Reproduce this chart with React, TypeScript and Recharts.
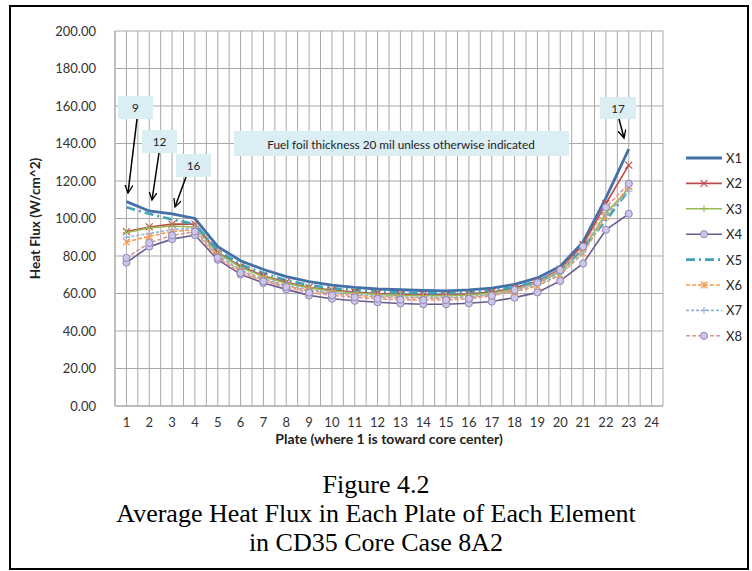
import React from "react";
import { LineChart, Line, XAxis, YAxis, CartesianGrid, Label } from "recharts";

const plates = [1, 2, 3, 4, 5, 6, 7, 8, 9, 10, 11, 12, 13, 14, 15, 16, 17, 18, 19, 20, 21, 22, 23, 24];
const yTicks = [0, 20, 40, 60, 80, 100, 120, 140, 160, 180, 200];

// plate 1..23, plate 24 has no value
const x1 = [109, 104, 102.5, 100, 85, 77.5, 72.8, 69, 66.3, 64.5, 63.3, 62.4, 62, 61.6, 61.4, 61.9, 62.9, 64.9, 68.3, 74.5, 87.5, 111, 137];
const x2 = [93, 95.5, 97, 97, 82, 74.5, 69.5, 66, 63.3, 61.8, 60.8, 60, 59.6, 59.3, 59.3, 59.8, 60.8, 63, 66.5, 73, 86, 108, 128.5];
const x3 = [92.5, 95, 96, 95.5, 81.5, 74, 69, 65.5, 63, 61.3, 60.3, 59.5, 59, 58.8, 58.8, 59.2, 60.2, 62.3, 65.5, 71.5, 83.5, 103, 116];
const x4 = [76.5, 85, 89, 91.2, 78, 70.2, 65.6, 62.2, 59, 57.2, 56.1, 55.3, 54.7, 54.3, 54.3, 54.8, 55.7, 57.8, 60.6, 66.7, 76, 94, 102.5];
const x5 = [106, 102.5, 99.5, 97, 83, 75.5, 70.8, 67, 64.5, 62.8, 61.8, 61, 60.5, 60.2, 60.2, 60.6, 61.6, 63.5, 66.5, 72.5, 84, 99, 115];
const x6 = [87.5, 90.5, 93, 94, 80, 72, 67.2, 64, 61.5, 60, 59, 58.2, 57.7, 57.5, 57.5, 58, 59, 61, 64, 70, 81.5, 101, 117];
const x7 = [90, 92, 94, 95, 80.5, 72.5, 67.8, 64.5, 62, 60.5, 59.5, 58.7, 58.2, 58, 58, 58.4, 59.4, 61.5, 64.5, 70.5, 82, 102, 114.5];
const x8 = [79, 87, 91, 93, 79, 71, 66.5, 63.5, 60.5, 59, 58, 57.2, 56.7, 56.5, 56.5, 57.2, 58.8, 61.9, 65.8, 72.5, 85, 106, 118.5];

const data = plates.map((p, i) => ({
  plate: p,
  X1: x1[i] ?? null,
  X2: x2[i] ?? null,
  X3: x3[i] ?? null,
  X4: x4[i] ?? null,
  X5: x5[i] ?? null,
  X6: x6[i] ?? null,
  X7: x7[i] ?? null,
  X8: x8[i] ?? null,
}));

type Marker = "none" | "x" | "plus" | "circle" | "star";

const seriesStyle: { key: string; color: string; width: number; dash?: string; marker: Marker; fill?: string }[] = [
  { key: "X1", color: "#4470a8", width: 2.8, marker: "none" },
  { key: "X2", color: "#BE4B48", width: 1.6, marker: "x" },
  { key: "X3", color: "#98B954", width: 1.6, marker: "plus" },
  { key: "X4", color: "#6b5b8e", width: 1.6, marker: "circle", fill: "#cdc6e6" },
  { key: "X5", color: "#3fa2b8", width: 2.6, dash: "9 4 2 4", marker: "none" },
  { key: "X6", color: "#F79646", width: 1.6, dash: "4 2", marker: "star" },
  { key: "X7", color: "#95B3D7", width: 1.6, dash: "3 2", marker: "plus" },
  { key: "X8", color: "#D99694", width: 1.6, dash: "4 2", marker: "circle", fill: "#cdc6e6" },
];

const font = "Lato, 'Open Sans', sans-serif";

const drawMarker = (m: Marker, cx: number, cy: number, color: string, fill?: string, k?: string) => {
  const s = 3.5;
  if (m === "x")
    return <path key={k} d={`M${cx - s},${cy - s}L${cx + s},${cy + s}M${cx - s},${cy + s}L${cx + s},${cy - s}`} stroke={color} strokeWidth={1.1} fill="none" />;
  if (m === "plus")
    return <path key={k} d={`M${cx - s},${cy}L${cx + s},${cy}M${cx},${cy - s}L${cx},${cy + s}`} stroke={color} strokeWidth={1.1} fill="none" />;
  if (m === "star")
    return (
      <path
        key={k}
        d={`M${cx - s},${cy - s}L${cx + s},${cy + s}M${cx - s},${cy + s}L${cx + s},${cy - s}M${cx},${cy - s}L${cx},${cy + s}`}
        stroke={color}
        strokeWidth={1.1}
        fill="none"
      />
    );
  if (m === "circle") return <circle key={k} cx={cx} cy={cy} r={3.6} fill={fill} stroke="#9186b8" strokeWidth={1} />;
  return <g key={k} />;
};

const makeDot = (m: Marker, color: string, fill?: string) => (props: any) => {
  const { cx, cy, index } = props;
  const k = `d-${index}`;
  if (cx == null || cy == null) return <g key={k} />;
  return drawMarker(m, cx, cy, color, fill, k);
};

const Legend = () => (
  <svg width={80} height={220} style={{ position: "absolute", left: 680, top: 140 }}>
    {seriesStyle.map((s, i) => {
      const cy = 18 + i * 25.4;
      return (
        <g key={s.key}>
          <line x1={6} x2={42} y1={cy} y2={cy} stroke={s.color} strokeWidth={s.width} strokeDasharray={s.dash} />
          {drawMarker(s.marker, 24, cy, s.color, s.fill)}
          <text x={46} y={cy} dominantBaseline="central" fontFamily={font} fontSize={13} fill="#222">
            {s.key}
          </text>
        </g>
      );
    })}
  </svg>
);

const callouts = [
  { text: "9", x: 118, y: 96, w: 35, h: 23, from: [137, 119], to: [128, 193] },
  { text: "12", x: 142, y: 130, w: 35, h: 23, from: [159, 153], to: [152, 200] },
  { text: "16", x: 176, y: 154, w: 35, h: 23, from: [186, 177], to: [175, 207] },
  { text: "17", x: 600, y: 97, w: 36, h: 22, from: [619, 119], to: [624, 138] },
];

const Notes = () => (
  <svg width={752} height={571} style={{ position: "absolute", left: 0, top: 0, pointerEvents: "none" }}>
    <defs>
      <marker id="arr" markerWidth={10} markerHeight={10} refX={8} refY={4} orient="auto" markerUnits="userSpaceOnUse">
        <path d="M0,0 L8,4 L0,8" fill="none" stroke="#000" strokeWidth={1.3} />
      </marker>
    </defs>
    <rect x={234} y={131} width={335} height={25} fill="#DBEEF4" />
    <text x={401} y={144} textAnchor="middle" dominantBaseline="central" fontFamily={font} fontSize={11.8} fill="#222">
      Fuel foil thickness 20 mil unless otherwise indicated
    </text>
    {callouts.map((c) => (
      <g key={c.text}>
        <rect x={c.x} y={c.y} width={c.w} height={c.h} fill="#DBEEF4" />
        <text x={c.x + c.w / 2} y={c.y + c.h / 2} textAnchor="middle" dominantBaseline="central" fontFamily={font} fontSize={11.8} fill="#222">
          {c.text}
        </text>
        <line x1={c.from[0]} y1={c.from[1]} x2={c.to[0]} y2={c.to[1]} stroke="#000" strokeWidth={1.5} markerEnd="url(#arr)" />
      </g>
    ))}
  </svg>
);

export default function App() {
  return (
    <div style={{ position: "absolute", left: 0, top: 0, width: 752, height: 571, background: "#fff" }}>
      <div
        style={{
          position: "absolute",
          left: 9,
          top: 5,
          width: 736,
          height: 561,
          border: "2px solid #000",
        }}
      />
      <div style={{ position: "absolute", left: 0, top: 0 }}>
        <LineChart width={752} height={460} data={data} margin={{ top: 31, right: 89, bottom: 30, left: 25 }}>
          <CartesianGrid
            stroke="#a9a9a9"
            strokeWidth={1}
            verticalCoordinatesGenerator={({ offset }: any) =>
              Array.from({ length: 49 }, (_, i) => offset.left + (offset.width * i) / 48)
            }
          />
          <XAxis
            dataKey="plate"
            type="number"
            domain={[0.5, 24.5]}
            ticks={plates}
            interval={0}
            tickLine={false}
            axisLine={{ stroke: "#a9a9a9" }}
            tickMargin={6}
            height={24}
            tick={{ fontFamily: font, fontSize: 13, fill: "#333" }}
          >
            <Label
              value="Plate (where 1 is toward core center)"
              position="bottom"
              offset={4}
              style={{ fontFamily: font, fontSize: 14, fontWeight: 700, fill: "#222" }}
            />
          </XAxis>
          <YAxis
            type="number"
            domain={[0, 200]}
            ticks={yTicks}
            interval={0}
            width={90}
            tickLine={false}
            axisLine={{ stroke: "#a9a9a9" }}
            tickMargin={13}
            tickFormatter={(v: number) => v.toFixed(2)}
            tick={{ fontFamily: font, fontSize: 13, fill: "#333" }}
          >
            <Label
              value="Heat Flux (W/cm^2)"
              angle={-90}
              position="insideLeft"
              offset={10}
              style={{ textAnchor: "middle", fontFamily: font, fontSize: 13.5, fontWeight: 700, fill: "#222" }}
            />
          </YAxis>
          {seriesStyle.map((s) => (
            <Line
              key={s.key}
              type="linear"
              dataKey={s.key}
              stroke={s.color}
              strokeWidth={s.width}
              strokeDasharray={s.dash}
              dot={s.marker === "none" ? false : makeDot(s.marker, s.color, s.fill)}
              activeDot={false}
              isAnimationActive={false}
            />
          ))}
        </LineChart>
      </div>
      <Legend />
      <Notes />
      <div
        style={{
          position: "absolute",
          left: 0,
          top: 470,
          width: 752,
          textAlign: "center",
          fontFamily: "'Liberation Serif', 'Times New Roman', serif",
          fontSize: 26,
          lineHeight: "29px",
          color: "#000",
        }}
      >
        Figure 4.2
        <br />
        Average Heat Flux in Each Plate of Each Element
        <br />
        in CD35 Core Case 8A2
      </div>
    </div>
  );
}
